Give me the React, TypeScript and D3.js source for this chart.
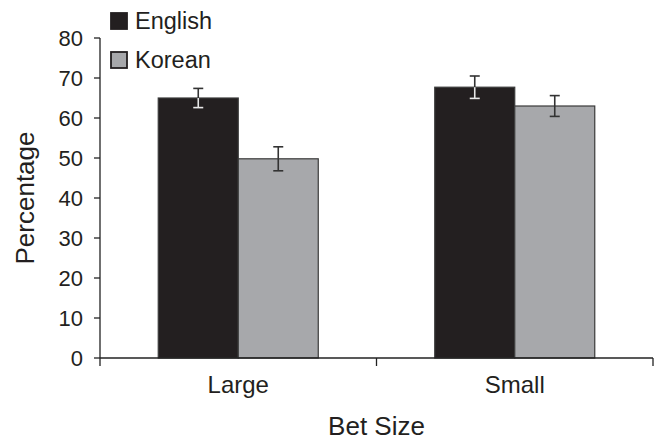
import React from "react";
import * as d3 from "d3";

const categories = ["Large", "Small"];
const series = ["English", "Korean"];
const englishValues = [65, 67.7];
const koreanValues = [49.8, 63];
const englishErrors = [2.4, 2.8];
const koreanErrors = [3, 2.6];
const yTicks = [0, 10, 20, 30, 40, 50, 60, 70, 80];

const colors: Record<string, string> = { English: "#231f20", Korean: "#a7a8ab" };

const W = 659;
const H = 440;
const margin = { left: 100, right: 6, top: 38, bottom: 82 };

export default function App() {
  const x0 = d3
    .scaleBand<string>()
    .domain(categories)
    .range([margin.left, W - margin.right])
    .padding(0);
  const x1 = d3
    .scaleBand<string>()
    .domain(series)
    .range([0, x0.bandwidth()])
    .paddingInner(0)
    .paddingOuter(0.728);
  const y = d3.scaleLinear().domain([0, 80]).range([H - margin.bottom, margin.top]);

  const valuesBy: Record<string, number[]> = { English: englishValues, Korean: koreanValues };
  const errorsBy: Record<string, number[]> = { English: englishErrors, Korean: koreanErrors };

  const font = "'Liberation Sans', Arial, Helvetica, sans-serif";
  const y0 = y(0);
  const xEnd = W - margin.right;
  const xTickPositions = [margin.left, ...categories.map((c) => (x0(c) as number) + x0.bandwidth())];

  return (
    <svg
      width={W}
      height={H}
      style={{ position: "absolute", left: 0, top: 0, background: "#fff" }}
      fontFamily={font}
    >
      {/* bars */}
      {categories.map((c, ci) =>
        series.map((s) => {
          const bx = (x0(c) as number) + (x1(s) as number);
          const v = valuesBy[s][ci];
          return (
            <rect
              key={c + s}
              x={bx}
              y={y(v)}
              width={x1.bandwidth()}
              height={y0 - y(v)}
              fill={colors[s]}
              stroke="#3a3a3a"
              strokeWidth={1.2}
            />
          );
        })
      )}
      {/* error bars */}
      {categories.map((c, ci) =>
        series.map((s) => {
          const cx = (x0(c) as number) + (x1(s) as number) + x1.bandwidth() / 2;
          const v = valuesBy[s][ci];
          const e = errorsBy[s][ci];
          const top = y(v + e);
          const bot = y(v - e);
          const barTop = y(v);
          const inner = s === "English" ? "#e8e8e8" : "#333";
          return (
            <g key={"e" + c + s} strokeWidth={1.6}>
              <line x1={cx} x2={cx} y1={top} y2={barTop} stroke="#333" />
              <line x1={cx} x2={cx} y1={barTop} y2={bot} stroke={inner} />
              <line x1={cx - 5} x2={cx + 5} y1={top} y2={top} stroke="#333" />
              <line x1={cx - 5} x2={cx + 5} y1={bot} y2={bot} stroke={inner} />
            </g>
          );
        })
      )}
      {/* y axis */}
      <line x1={margin.left} x2={margin.left} y1={y(80)} y2={y0} stroke="#222" strokeWidth={1.3} />
      {yTicks.map((t) => (
        <g key={t}>
          <line x1={margin.left - 6} x2={margin.left} y1={y(t)} y2={y(t)} stroke="#222" strokeWidth={1.3} />
          <text
            x={margin.left - 17}
            y={y(t)}
            dy="0.36em"
            textAnchor="end"
            fontSize={22}
            fill="#231f20"
          >
            {t}
          </text>
        </g>
      ))}
      {/* x axis */}
      <line x1={margin.left} x2={xEnd} y1={y0} y2={y0} stroke="#222" strokeWidth={1.3} />
      {xTickPositions.map((p, i) => (
        <line key={i} x1={p} x2={p} y1={y0} y2={y0 + 8} stroke="#222" strokeWidth={1.3} />
      ))}
      {categories.map((c) => (
        <text
          key={c}
          x={(x0(c) as number) + x0.bandwidth() / 2}
          y={393}
          textAnchor="middle"
          fontSize={24}
          fill="#231f20"
        >
          {c}
        </text>
      ))}
      <text x={(margin.left + xEnd) / 2} y={435} textAnchor="middle" fontSize={26} fill="#231f20">
        Bet Size
      </text>
      <text
        transform={`translate(34, ${(y(80) + y0) / 2}) rotate(-90)`}
        textAnchor="middle"
        fontSize={26}
        fill="#231f20"
      >
        Percentage
      </text>
      {/* legend */}
      {series.map((s, i) => (
        <g key={s} transform={`translate(111, ${13 + i * 39})`}>
          <rect x={0} y={0} width={16} height={16} fill={colors[s]} stroke="#231f20" strokeWidth={1.8} />
          <text x={24} y={16} fontSize={23.5} fill="#231f20">
            {s}
          </text>
        </g>
      ))}
    </svg>
  );
}
